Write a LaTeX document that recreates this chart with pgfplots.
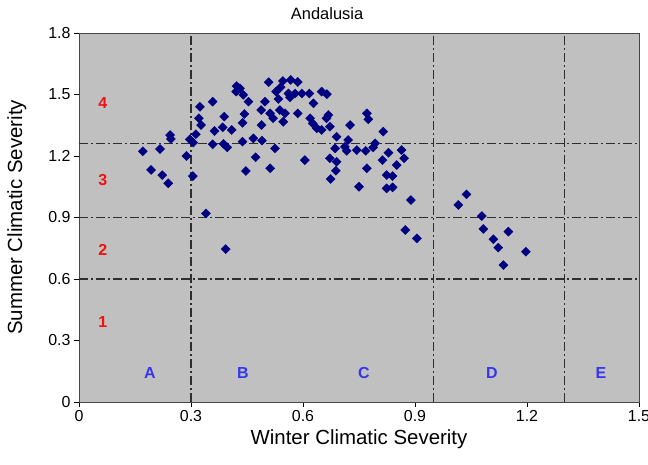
\documentclass[border=0pt]{standalone}
\usepackage{fontspec}
\setmainfont{Liberation Sans}
\usepackage{pgfplots}
\usepackage{pgfplotstable}
\pgfplotsset{compat=1.18}
\definecolor{plotbg}{HTML}{C0C0C0}
\definecolor{navyc}{HTML}{000080}
\definecolor{ddc}{HTML}{2E2E2E}
\definecolor{lblue}{HTML}{3535F0}
\definecolor{lred}{HTML}{F01010}
\tikzset{rl/.style={text=lred, font=\bfseries\fontsize{16}{16}\selectfont},
  bl/.style={text=lblue, font=\bfseries\fontsize{16}{16}\selectfont}}
\pgfplotsset{dd/.style={ddc, line width=1.3bp, dash pattern=on 9bp off 3bp on 2bp off 3bp, forget plot}}

\pgfplotstableread{
x y
0.171 1.223
0.217 1.234
0.244 1.302
0.246 1.283
0.193 1.132
0.223 1.107
0.239 1.067
0.288 1.200
0.297 1.281
0.306 1.265
0.305 1.102
0.313 1.306
0.340 0.920
0.393 0.746
0.324 1.440
0.321 1.384
0.327 1.351
0.358 1.465
0.358 1.257
0.363 1.322
0.389 1.392
0.385 1.340
0.387 1.259
0.397 1.242
0.409 1.327
0.422 1.541
0.431 1.530
0.421 1.514
0.440 1.498
0.454 1.465
0.443 1.405
0.438 1.362
0.438 1.270
0.467 1.286
0.473 1.194
0.447 1.127
0.489 1.351
0.488 1.424
0.498 1.465
0.508 1.560
0.490 1.275
0.512 1.140
0.546 1.566
0.567 1.571
0.586 1.561
0.540 1.535
0.528 1.514
0.561 1.505
0.579 1.505
0.597 1.505
0.617 1.505
0.565 1.486
0.534 1.478
0.650 1.514
0.664 1.502
0.628 1.457
0.586 1.408
0.538 1.424
0.552 1.408
0.512 1.408
0.520 1.384
0.547 1.367
0.619 1.384
0.626 1.359
0.637 1.335
0.650 1.327
0.668 1.400
0.663 1.384
0.672 1.343
0.690 1.294
0.726 1.351
0.771 1.408
0.775 1.379
0.815 1.319
0.721 1.278
0.712 1.245
0.717 1.225
0.686 1.237
0.744 1.229
0.768 1.225
0.788 1.242
0.793 1.262
0.672 1.189
0.690 1.172
0.688 1.128
0.674 1.088
0.605 1.180
0.525 1.237
0.771 1.140
0.750 1.050
0.813 1.180
0.824 1.107
0.840 1.102
0.824 1.042
0.840 1.047
0.829 1.216
0.851 1.156
0.871 1.189
0.864 1.229
0.889 0.985
0.874 0.839
0.905 0.798
1.016 0.961
1.038 1.013
1.079 0.907
1.083 0.844
1.110 0.794
1.123 0.753
1.150 0.831
1.137 0.668
1.197 0.733
}\andalusia

\begin{document}
\begin{tikzpicture}
\begin{axis}[
  name=ax,
  scale only axis,
  width=560bp, height=369bp,
  xmin=0, xmax=1.5, ymin=0, ymax=1.8,
  xtick={0,0.3,0.6,0.9,1.2,1.5},
  ytick={0,0.3,0.6,0.9,1.2,1.5,1.8},
  xticklabels={0,0.3,0.6,0.9,1.2,1.5},
  yticklabels={0,0.3,0.6,0.9,1.2,1.5,1.8},
  tick align=outside,
  xtick pos=bottom, ytick pos=left,
  major tick length=5bp,
  tick style={black, line width=0.8bp},
  axis background/.style={fill=plotbg},
  axis line style={draw=gray!55!black, line width=0.8bp},
  ticklabel style={font=\fontsize{16}{16}\selectfont},
  /pgf/number format/assume math mode=true,
  xlabel={Winter Climatic Severity},
  ylabel={Summer Climatic Severity},
  label style={font=\fontsize{20.5}{20.5}\selectfont},
  xlabel style={at={(axis description cs:0.5,-0.1)}, anchor=center},
  ylabel style={at={(axis description cs:-0.111,0.5)}, anchor=center},
  title={Andalusia},
  title style={font=\fontsize{16.5}{16.5}\selectfont, at={(axis description cs:0.443,1.037)}, anchor=center},
  clip=false,
]
\addplot[dd] coordinates {(0.3,0) (0.3,1.8)};
\addplot[dd] coordinates {(0.95,0) (0.95,1.8)};
\addplot[dd] coordinates {(1.3,0) (1.3,1.8)};
\addplot[dd] coordinates {(0,1.26) (1.5,1.26)};
\addplot[dd] coordinates {(0,0.9) (1.5,0.9)};
\addplot[dd] coordinates {(0,0.6) (1.5,0.6)};
\addplot[only marks, mark=square*, mark size=3.2bp,
  mark options={rotate=45, fill=navyc, draw=navyc}] table[x=x,y=y] {\andalusia};
\node[rl] at (axis cs:0.064,1.459) {4};
\node[rl] at (axis cs:0.064,1.083) {3};
\node[rl] at (axis cs:0.064,0.741) {2};
\node[rl] at (axis cs:0.064,0.39) {1};
\node[bl] at (axis cs:0.190,0.141) {A};
\node[bl] at (axis cs:0.439,0.141) {B};
\node[bl] at (axis cs:0.763,0.141) {C};
\node[bl] at (axis cs:1.106,0.141) {D};
\node[bl] at (axis cs:1.398,0.141) {E};
\end{axis}
\pgfresetboundingbox
\useasboundingbox ([xshift=-79bp,yshift=-63bp]ax.south west) rectangle ([xshift=9bp,yshift=33bp]ax.north east);
\end{tikzpicture}
\end{document}
